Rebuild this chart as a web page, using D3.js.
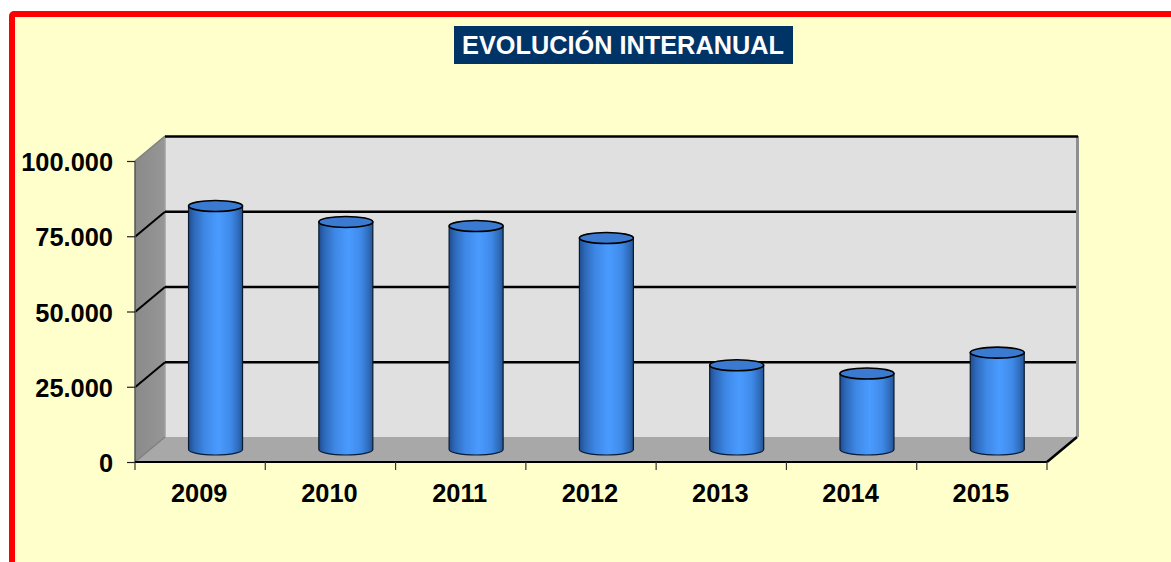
<!DOCTYPE html>
<html><head><meta charset="utf-8">
<script src="https://cdnjs.cloudflare.com/ajax/libs/d3/7.8.5/d3.min.js"></script>
<style>html,body{margin:0;padding:0;background:#fff;overflow:hidden}svg{display:block}text{font-family:"Liberation Sans",Arial,sans-serif;font-weight:bold}</style>
</head><body><svg id="c" width="1171" height="562"></svg>
<script>
const chartTitle = "EVOLUCIÓN INTERANUAL";
const years = ["2009","2010","2011","2012","2013","2014","2015"];
const values = [80900,75600,74250,70260,28000,25250,32200];
const yTicks = [0,25000,50000,75000,100000];
const yLabels = ["0","25.000","50.000","75.000","100.000"];

const svg = d3.select("#c");
const W=1171,H=562;
const pLeft=135,pRight=1047,pBottom=462,pTop=161,dx=30,dy=-25;
const x=d3.scaleBand().domain(years).range([pLeft,pRight]);
const y=d3.scaleLinear().domain([0,100000]).range([pBottom,pTop]);

// frame
svg.append("rect").attr("x",12).attr("y",14).attr("width",W+20).attr("height",H+20).attr("rx",2)
  .attr("fill","#FFFFCC").attr("stroke","#FF0000").attr("stroke-width",6);

// title
svg.append("rect").attr("x",454).attr("y",26).attr("width",339).attr("height",38).attr("fill","#003366");
svg.append("text").attr("x",623).attr("y",54).attr("text-anchor","middle").attr("fill","#fff")
  .attr("font-size",25.3).text(chartTitle);

const defs=svg.append("defs");
const g=defs.append("linearGradient").attr("id","cyl");
[[0,"#1f4c8e"],[0.1,"#2d68b8"],[0.3,"#3e88e6"],[0.55,"#4a9bff"],[0.78,"#3f8ae8"],[0.92,"#2f6cbc"],[1,"#24548f"]]
 .forEach(s=>g.append("stop").attr("offset",s[0]).attr("stop-color",s[1]));
const wg=defs.append("linearGradient").attr("id","wall");
wg.append("stop").attr("offset",0).attr("stop-color","#8a8a8a");
wg.append("stop").attr("offset",1).attr("stop-color","#969696");

const y0=y(0), y1=y(100000);
const poly=(pts,fill)=>svg.append("polygon").attr("points",pts.map(p=>p.join(",")).join(" ")).attr("fill",fill);
// back wall, side wall, floor
poly([[pLeft+dx,y1+dy],[pRight+dx,y1+dy],[pRight+dx,y0+dy],[pLeft+dx,y0+dy]],"#E0E0E0");
poly([[pLeft,y1],[pLeft+dx,y1+dy],[pLeft+dx,y0+dy],[pLeft,y0]],"url(#wall)");
poly([[pLeft,y0],[pLeft+dx,y0+dy],[pRight+dx,y0+dy],[pRight,y0]],"#A8A8A8");

// wall edges
const seg=(a,b,c,w)=>svg.append("line").attr("x1",a[0]).attr("y1",a[1]).attr("x2",b[0]).attr("y2",b[1]).attr("stroke",c).attr("stroke-width",w);
seg([pLeft+dx,y1+dy],[pLeft+dx,y0+dy],"#A0A0A0",1.5);
seg([pLeft,y1],[pLeft+dx,y1+dy],"#808080",1.5);
seg([pLeft,y0],[pLeft+dx,y0+dy],"#808080",1.5);
seg([pRight+dx+0.5,y1+dy],[pRight+dx+0.5,y0+dy],"#8F8F8F",3);

// gridlines on wall
yTicks.slice(1).forEach((t,i)=>{
  const yy=y(t)+0.5;
  if(t<100000) seg([pLeft,yy],[pLeft+dx,yy+dy],"#000",2);
  seg([pLeft+dx,yy+dy],[pRight+dx+(t==100000?1:-1),yy+dy],"#000",2.5);
});
seg([pRight,y0],[pRight+dx,y0+dy],"#000",2.5);

// axes through d3
const yAxis=d3.axisLeft(y).tickValues(yTicks).tickFormat((d,i)=>yLabels[i]).tickSize(8).tickPadding(14);
const ya=svg.append("g").attr("transform",`translate(${pLeft},0)`).call(yAxis);
ya.select(".domain").attr("stroke","#555").attr("stroke-width",1.5).attr("d",`M0,${y1}V${y0}`);
ya.selectAll("line").attr("stroke","#222").attr("stroke-width",1.2);
ya.selectAll("text").attr("font-size",25.4).attr("fill","#000").attr("font-family",'"Liberation Sans",Arial,sans-serif').attr("font-weight","bold").attr("dy","0.38em");

const xa=svg.append("g").attr("transform",`translate(0,${y0})`);
xa.append("line").attr("x1",pLeft).attr("x2",pRight).attr("stroke","#000").attr("stroke-width",2);
const edges=d3.range(years.length+1).map(i=>pLeft+i*x.step());
xa.selectAll(".t").data(edges).join("line").attr("class","t").attr("x1",d=>d).attr("x2",d=>d).attr("y1",0).attr("y2",8).attr("stroke","#333").attr("stroke-width",1.2);
xa.selectAll(".l").data(years).join("text").attr("class","l").attr("x",d=>x(d)+x.bandwidth()/2-1).attr("y",39.5).attr("text-anchor","middle").attr("font-size",25.4).attr("fill","#000").text(d=>d);

// cylinders
const barW=54, ry=5.5, midX=dx/2+0.4, midY=dy/2;
const bars=svg.append("g").selectAll("g").data(years.map((d,i)=>({d,v:values[i]}))).join("g");
bars.each(function(r){
  const s=d3.select(this);
  const cx=x(r.d)+x.bandwidth()/2+midX, yb=y(0)+midY, yt=y(r.v)+midY, a=barW/2;
  s.append("path").attr("d",`M${cx-a},${yt}V${yb}A${a},${ry} 0 0 0 ${cx+a},${yb}V${yt}Z`)
    .attr("fill","url(#cyl)").attr("stroke","#0a1a30").attr("stroke-width",1.2);
  s.append("ellipse").attr("cx",cx).attr("cy",yt).attr("rx",a).attr("ry",ry)
    .attr("fill","#3A7AD0").attr("stroke","#000").attr("stroke-width",1.6);
});
</script></body></html>
